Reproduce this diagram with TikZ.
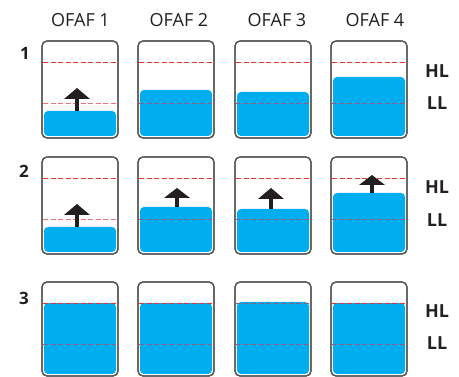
\documentclass[tikz,border=0pt]{standalone}
\usepackage{fontspec}
\setmainfont{Open Sans}
\definecolor{water}{HTML}{00AEEF}
\definecolor{frame}{HTML}{555555}
\definecolor{levelred}{HTML}{ED3237}
\definecolor{levelpale}{HTML}{F07476}
\definecolor{levelsub}{HTML}{8E5F85}
\definecolor{ink}{HTML}{231F20}
\tikzset{
  x=1pt, y=-1pt,
  tank/.style={draw=frame, line width=1.2pt, rounded corners=5pt, fill=white},
  waterfill/.style={fill=water, rounded corners=4pt},
  levelline/.style={draw=levelred, line width=0.9pt, dash pattern=on 5pt off 2.5pt},
  palelevel/.style={draw=levelpale, line width=0.9pt, dash pattern=on 5pt off 2.5pt},
  sublevel/.style={draw=levelsub, line width=0.9pt, dash pattern=on 5pt off 2.5pt},
  riser/.style={fill=ink},
  colhead/.style={font=\fontsize{18}{20}\selectfont, text=ink, anchor=center, inner sep=0pt},
  rowno/.style={font=\bfseries\fontsize{17}{19}\selectfont, text=ink, anchor=center, inner sep=0pt},
  lvl/.style={font=\bfseries\fontsize{18}{20}\selectfont, text=ink, anchor=center, inner sep=0pt},
}
% one tank: #1 left x, #2 top y, #3 bottom y, #4 water level y
\newcommand{\tankat}[4]{%
  \path[tank] (#1,#2) rectangle ++(76,#3-#2);
  \path[waterfill] (#1+2,#4) rectangle (#1+74,#3-2);
  \pgfmathsetmacro\hly{#2+21}%
  \pgfmathsetmacro\lly{#2+62}%
  % high level mark: plum below the surface, red above or on it
  \ifdim\hly pt>#4pt
    \draw[sublevel] (#1+1,\hly) -- ++(74,0);
  \else
    \draw[levelline] (#1+1,\hly) -- ++(74,0);
  \fi
  % low level mark: plum below the surface, pale red above it
  \ifdim\lly pt>#4pt
    \draw[sublevel] (#1+1,\lly) -- ++(74,0);
  \else
    \draw[palelevel] (#1+1,\lly) -- ++(74,0);
  \fi
  \draw[draw=frame, line width=1.2pt, rounded corners=5pt] (#1,#2) rectangle ++(76,#3-#2);
}
% rising arrow: #1 x, #2 tip y, #3 head base y, #4 water level y
\newcommand{\riseat}[4]{%
  \fill[riser] (#1-2,#4) rectangle (#1+2,#3+0.5);
  \fill[riser] (#1-13,#3) -- (#1,#2) -- (#1+13,#3) -- cycle;
}
\begin{document}
\begin{tikzpicture}
\useasboundingbox (0,0) rectangle (459,377);

% column headings
\node[colhead] (h1) at (80.5,20) {OFAF 1};
\node[colhead] (h2) at (179,20) {OFAF 2};
\node[colhead] (h3) at (277,20) {OFAF 3};
\node[colhead] (h4) at (375,20) {OFAF 4};

% row numbers
\node[rowno] (r1) at (25,53) {1};
\node[rowno] (r2) at (24,171) {2};
\node[rowno] (r3) at (24,298) {3};

% row 1
\tankat{42}{41}{138}{111}
\tankat{138}{41}{138}{90}
\tankat{235}{41}{138}{92}
\tankat{331}{41}{138}{77}
\riseat{77}{88}{99}{111}

% row 2
\tankat{42}{157}{254}{227}
\tankat{138}{157}{254}{207}
\tankat{235}{157}{254}{209}
\tankat{331}{157}{254}{193}
\riseat{77}{204}{215}{227}
\riseat{177}{188}{198}{207}
\riseat{271}{188}{199}{209}
\riseat{372}{175}{185}{193}

% row 3
\tankat{42}{282}{376}{303}
\tankat{138}{282}{376}{303}
\tankat{235}{282}{376}{302}
\tankat{331}{282}{376}{303}

% level labels
\node[lvl] (hl1) at (437,71) {HL};
\node[lvl] (ll1) at (437,103) {LL};
\node[lvl] (hl2) at (437,187) {HL};
\node[lvl] (ll2) at (437,220) {LL};
\node[lvl] (hl3) at (437,311) {HL};
\node[lvl] (ll3) at (437,343) {LL};
\end{tikzpicture}
\end{document}
